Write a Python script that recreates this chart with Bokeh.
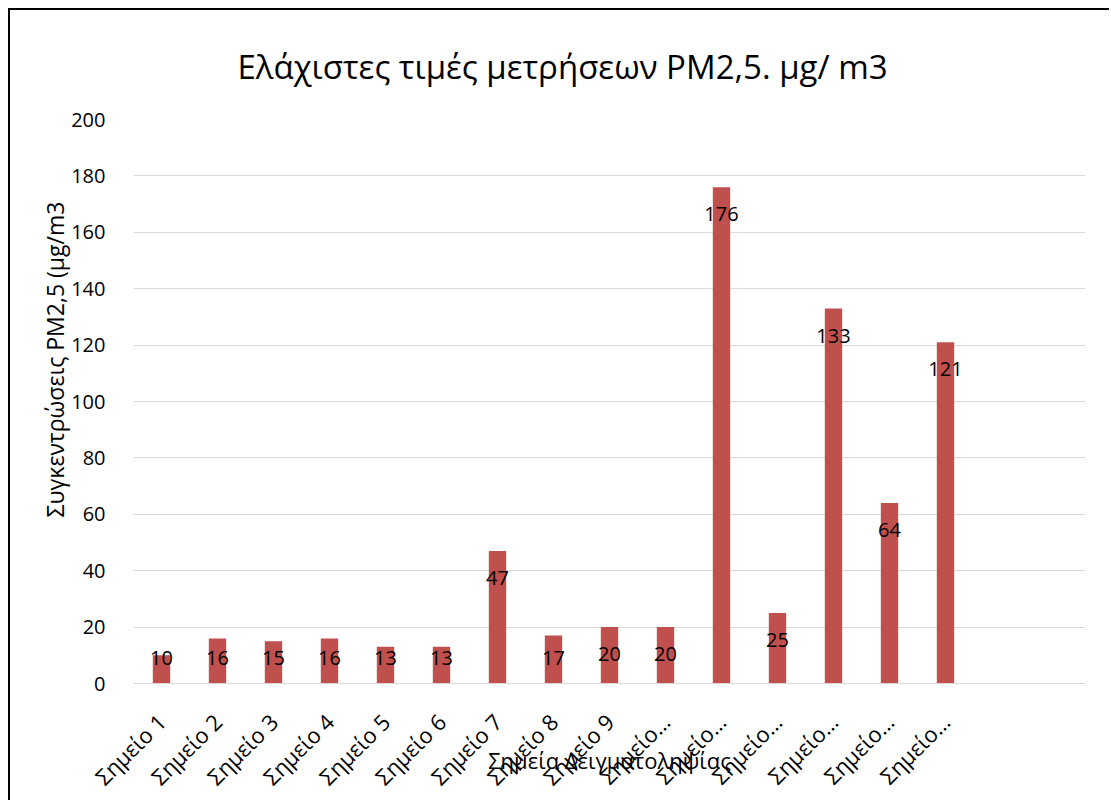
import math
from bokeh.plotting import figure
from bokeh.models import FixedTicker, ColumnDataSource, Range1d, Title
from bokeh.core.properties import value
from bokeh.embed import file_html
from bokeh.resources import INLINE

# ---- data ----
categories = ["Σημείο 1", "Σημείο 2", "Σημείο 3", "Σημείο 4", "Σημείο 5",
              "Σημείο 6", "Σημείο 7", "Σημείο 8", "Σημείο 9", "Σημείο 10",
              "Σημείο 11", "Σημείο 12", "Σημείο 13", "Σημείο 14", "Σημείο 15"]
tick_labels = ["Σημείο 1", "Σημείο 2", "Σημείο 3", "Σημείο 4", "Σημείο 5",
               "Σημείο 6", "Σημείο 7", "Σημείο 8", "Σημείο 9", "Σημείο…",
               "Σημείο…", "Σημείο…", "Σημείο…", "Σημείο…", "Σημείο…"]
values = [10, 16, 15, 16, 13, 13, 47, 17, 20, 20, 176, 25, 133, 64, 121]
y_ticks = [0, 20, 40, 60, 80, 100, 120, 140, 160, 180, 200]
n_slots = 17

title_text = "Ελάχιστες τιμές μετρήσεων PM2,5. μg/ m3"
x_title = "Σημεία Δειγματοληψίας"
y_title = "Συγκεντρώσεις PM2,5 (μg/m3"

FONT = "Open Sans"
BAR = "#C0504D"
GRID = "#D9D9D9"

xs = list(range(1, len(values) + 1))
label_y = [max(v - 9.6, 9.2) for v in values]
src = ColumnDataSource(dict(x=xs, top=values, ly=label_y, txt=[str(v) for v in values]))

p = figure(width=1101, height=792, output_backend="svg", toolbar_location=None,
           x_range=Range1d(0.5, n_slots + 0.5), y_range=Range1d(0, 200),
           min_border_left=123, min_border_right=26, min_border_top=109,
           min_border_bottom=119, tools="")
p.styles = {"margin-left": "10px", "margin-top": "10px",
            "box-shadow": "-2px -2px 0px 0px #000000"}
p.outline_line_color = None
p.background_fill_color = "white"
p.border_fill_color = "white"

p.vbar(x="x", top="top", width=0.31, source=src, fill_color=BAR, line_color=None)
p.text(x="x", y="ly", text="txt", source=src, text_align="center",
       text_baseline="middle", text_font=value(FONT), text_font_size="20px",
       text_color="black")

# axes
p.xaxis.ticker = FixedTicker(ticks=xs)
p.xaxis.major_label_overrides = {x: t for x, t in zip(xs, tick_labels)}
p.xaxis.major_label_orientation = math.pi / 4
p.xaxis.major_label_text_font = FONT
p.xaxis.major_label_text_font_size = "22px"
p.xaxis.major_label_text_color = "black"
p.xaxis.major_label_standoff = 28
p.xaxis.axis_line_color = GRID
p.xaxis.major_tick_line_color = None
p.xaxis.minor_tick_line_color = None
p.xaxis.axis_label = x_title
p.xaxis.axis_label_text_font = FONT
p.xaxis.axis_label_text_font_size = "22px"
p.xaxis.axis_label_text_font_style = "normal"
p.xaxis.axis_label_text_color = "black"
p.xaxis.axis_label_standoff = -60

p.yaxis.ticker = FixedTicker(ticks=y_ticks)
p.yaxis.major_label_text_font = FONT
p.yaxis.major_label_text_font_size = "20px"
p.yaxis.major_label_text_color = "black"
p.yaxis.major_label_standoff = 22
p.yaxis.axis_line_color = None
p.yaxis.major_tick_line_color = None
p.yaxis.minor_tick_line_color = None

p.xgrid.grid_line_color = None
p.ygrid.ticker = FixedTicker(ticks=y_ticks)
p.ygrid.grid_line_color = GRID
p.ygrid.grid_line_width = 1

# titles
p.title.text = title_text
p.title.text_font = FONT
p.title.text_font_size = "33px"
p.title.text_font_style = "normal"
p.title.text_color = "black"
p.title.align = "left"
p.title.offset = 104
p.title.vertical_align = "bottom"
p.title.standoff = 61

p.add_layout(Title(text=y_title, text_font=FONT, text_font_size="23px",
                   text_font_style="normal", text_color="black",
                   align="left", offset=166, standoff=-4), "left")

open("out.html", "w").write(file_html(p, INLINE))
